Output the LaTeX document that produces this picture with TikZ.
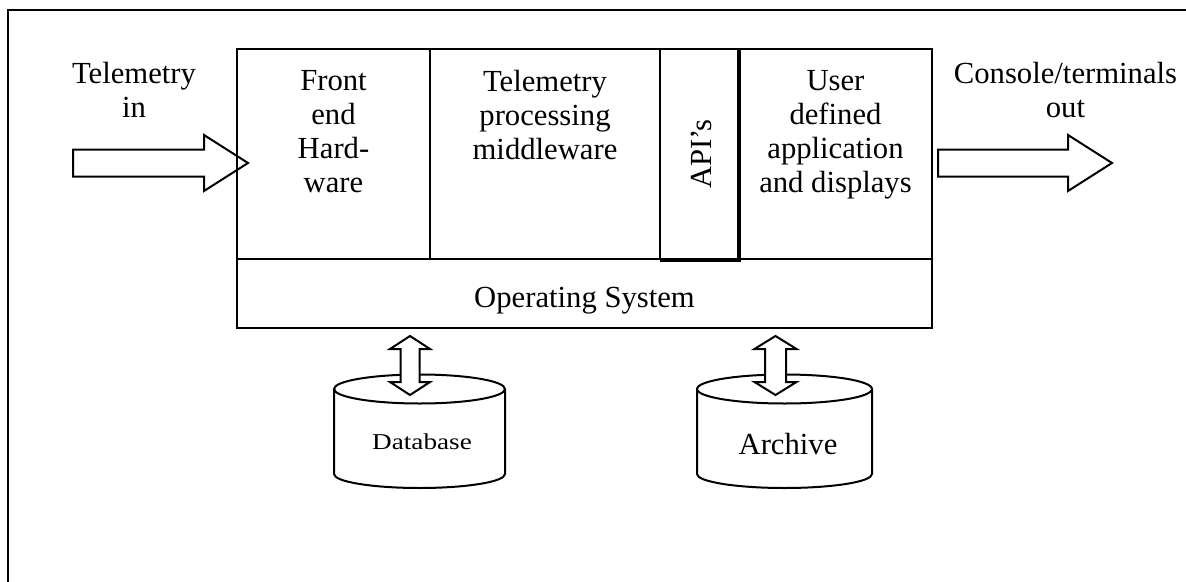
\documentclass[tikz,border=0pt]{standalone}
\usepackage{fontspec}
\setmainfont{Liberation Serif}
\usetikzlibrary{calc}
\begin{document}
\tikzset{
  ln/.style={line width=1.5pt},
  thk/.style={line width=2.6pt},
  lbl/.style={font=\fontsize{23}{25.5}\selectfont, align=center, inner sep=0pt},
  blk/.style={line width=1.5pt, line join=miter},
  dblk/.style={line width=1.5pt, line join=miter, fill=white},
}
\begin{tikzpicture}[x=0.75pt,y=-0.75pt]
\useasboundingbox (0,0) rectangle (1186,582);
% outer frame (partly cut)
\draw[ln] (8,585) -- (8,10) -- (1190,10);

% block arrows in/out
\coordinate (inT) at (73,163);
\coordinate (inH) at (248,163);
\draw[blk] ($(inT)+(0,-13.5)$) -- ($(inH)+(-44,-13.5)$) -- ($(inH)+(-44,-28)$) -- (inH)
  -- ($(inH)+(-44,28)$) -- ($(inH)+(-44,13.5)$) -- ($(inT)+(0,13.5)$) -- cycle;
\coordinate (outT) at (938,163);
\coordinate (outH) at (1112,163);
\draw[blk] ($(outT)+(0,-13.5)$) -- ($(outH)+(-44,-13.5)$) -- ($(outH)+(-44,-28)$) -- (outH)
  -- ($(outH)+(-44,28)$) -- ($(outH)+(-44,13.5)$) -- ($(outT)+(0,13.5)$) -- cycle;

% main box
\draw[ln] (237,49) rectangle (932,328);
\draw[ln] (237,259) -- (932,259);
\draw[ln] (430,49) -- (430,259);
\draw[ln] (660,49) -- (660,260);
\draw[thk] (660,260) -- (739,260) -- (739,49);

% labels
\node[lbl, anchor=north] (tin) at (134,62) {Telemetry\\in};
\node[lbl, anchor=north] (cout) at (1065.5,62) {Console/terminals\\out};
\node[lbl, anchor=north] (fe) at (333.5,70.5) {Front\\end\\Hard-\\ware};
\node[lbl, anchor=north] (tpm) at (545,70) {Telemetry\\processing\\middleware};
\node[lbl, anchor=north] (uda) at (835.5,70.5) {User\\defined\\application\\and displays};
\node[lbl, anchor=base] (os) at (584.5,307) {Operating System};
\node[lbl, rotate=90] (api) at (701.5,154) {API's};

% Database cylinder
\coordinate (dbC) at (419.5,389);
\draw[ln, fill=white] (334,389) -- (334,474) arc[start angle=180, end angle=0, x radius=85.5, y radius=14] -- (505,389);
\draw[ln] (dbC) ellipse [x radius=85.5, y radius=14.5];
\node[inner sep=0pt, anchor=base, font=\fontsize{17}{20}\selectfont] (dbt) at (422,449) {\scalebox{1.2}[1]{Database}};

% Archive cylinder
\coordinate (arC) at (784.5,389);
\draw[ln, fill=white] (697,389) -- (697,474) arc[start angle=180, end angle=0, x radius=87.5, y radius=14] -- (872,389);
\draw[ln] (arC) ellipse [x radius=87.5, y radius=14.5];
\node[lbl, anchor=base] (art) at (788,454) {Archive};

% vertical double arrows
\coordinate (dbA) at (410,336);
\coordinate (dbB) at (410,395);
\draw[dblk] (dbA) -- ($(dbA)+(20,13)$) -- ($(dbA)+(9.5,13)$) -- ($(dbB)+(9.5,-13)$) -- ($(dbB)+(20,-13)$)
  -- (dbB) -- ($(dbB)+(-20,-13)$) -- ($(dbB)+(-9.5,-13)$) -- ($(dbA)+(-9.5,13)$) -- ($(dbA)+(-20,13)$) -- cycle;
\coordinate (arA) at (775.5,336);
\coordinate (arB) at (775.5,395);
\draw[dblk] (arA) -- ($(arA)+(21,13)$) -- ($(arA)+(10.5,13)$) -- ($(arB)+(10.5,-13)$) -- ($(arB)+(21,-13)$)
  -- (arB) -- ($(arB)+(-21,-13)$) -- ($(arB)+(-10.5,-13)$) -- ($(arA)+(-10.5,13)$) -- ($(arA)+(-21,13)$) -- cycle;
\end{tikzpicture}
\end{document}
